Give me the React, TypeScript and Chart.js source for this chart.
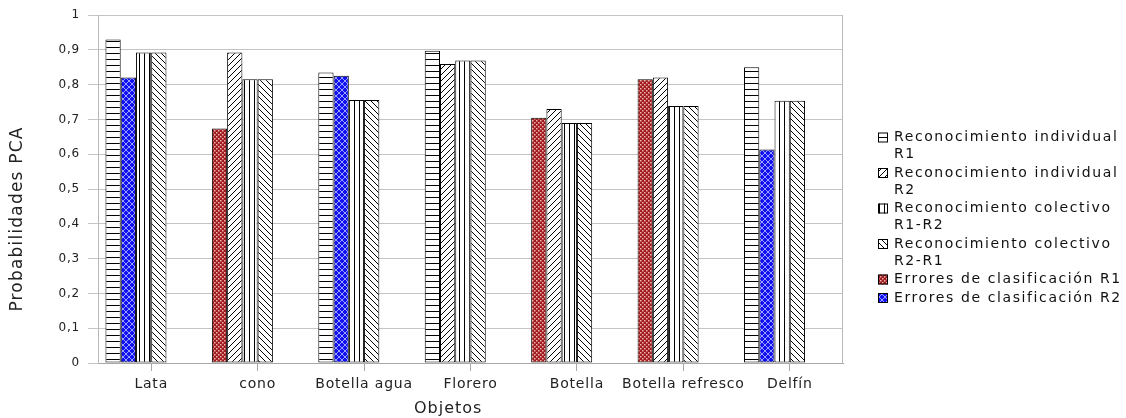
import React, { useEffect, useRef } from 'react';
import { Chart, registerables } from 'chart.js';

Chart.register(...registerables);

// ---- data ----
const categories = ['Lata', 'cono', 'Botella agua', 'Florero', 'Botella', 'Botella refresco', 'Delfín'];
const individualR1 = [0.93, null, 0.835, 0.898, null, null, 0.85];
const individualR2 = [null, 0.893, null, 0.86, 0.73, 0.821, null];
const colectivoR1R2 = [0.893, 0.816, 0.756, 0.87, 0.69, 0.739, 0.754];
const colectivoR2R1 = [0.893, 0.816, 0.756, 0.87, 0.69, 0.739, 0.754];
const erroresR1 = [null, 0.674, null, null, 0.705, 0.816, null];
const erroresR2 = [0.821, null, 0.826, null, null, null, 0.614];
const emptySlot = [0, 0, 0, 0, 0, 0, 0];
const legendLabels = [
  ['Reconocimiento individual', 'R1'],
  ['Reconocimiento individual', 'R2'],
  ['Reconocimiento colectivo', 'R1-R2'],
  ['Reconocimiento colectivo', 'R2-R1'],
  ['Errores de clasificación R1'],
  ['Errores de clasificación R2'],
];
const yTitle = 'Probabilidades PCA';
const xTitle = 'Objetos';

const FONT = '"DejaVu Sans", Verdana, sans-serif';

function tile(size: number, draw: (g: CanvasRenderingContext2D) => void) {
  const c = document.createElement('canvas');
  c.width = size;
  c.height = size;
  const g = c.getContext('2d')!;
  draw(g);
  return c;
}

function makePatterns(ctx: CanvasRenderingContext2D) {
  const horiz = tile(6, (g) => {
    g.fillStyle = '#fff'; g.fillRect(0, 0, 6, 6);
    g.fillStyle = '#000'; g.fillRect(0, 5, 6, 1);
  });
  const diagUp = tile(6, (g) => {
    g.fillStyle = '#fff'; g.fillRect(0, 0, 6, 6);
    g.strokeStyle = '#000'; g.lineWidth = 1;
    g.beginPath();
    g.moveTo(-1, 7); g.lineTo(7, -1);
    g.moveTo(-1, 1); g.lineTo(1, -1);
    g.moveTo(5, 7); g.lineTo(7, 5);
    g.stroke();
  });
  const vert = tile(5, (g) => {
    g.fillStyle = '#fff'; g.fillRect(0, 0, 5, 5);
    g.fillStyle = '#000'; g.fillRect(4, 0, 1, 5);
  });
  const diagDown = tile(6, (g) => {
    g.fillStyle = '#fff'; g.fillRect(0, 0, 6, 6);
    g.strokeStyle = '#000'; g.lineWidth = 1;
    g.beginPath();
    g.moveTo(-1, -1); g.lineTo(7, 7);
    g.moveTo(5, -1); g.lineTo(7, 1);
    g.moveTo(-1, 5); g.lineTo(1, 7);
    g.stroke();
  });
  const red = tile(4, (g) => {
    g.fillStyle = '#a01c1c'; g.fillRect(0, 0, 4, 4);
    g.fillStyle = '#f0b4b4';
    g.fillRect(0, 0, 1.5, 1.5);
    g.fillRect(2, 2, 1.5, 1.5);
  });
  const blue = tile(6, (g) => {
    g.fillStyle = '#1010f0'; g.fillRect(0, 0, 6, 6);
    g.strokeStyle = '#9aa0ff'; g.lineWidth = 1;
    g.beginPath();
    g.moveTo(-1, 7); g.lineTo(7, -1);
    g.moveTo(-1, -1); g.lineTo(7, 7);
    g.stroke();
  });
  return [horiz, diagUp, vert, diagDown, red, blue].map((c) => ctx.createPattern(c, 'repeat')!);
}

export default function App() {
  const ref = useRef<HTMLCanvasElement>(null);

  useEffect(() => {
    const canvas = ref.current!;
    const ctx = canvas.getContext('2d')!;
    const pats = makePatterns(ctx);

    const common = {
      borderColor: '#000',
      borderWidth: 1,
      borderSkipped: false,
      categoryPercentage: 0.86,
      barPercentage: 1.0,
      skipNull: true,
    };

    const decor = {
      id: 'decor',
      beforeLayout(chart: any) {
        chart.ctx.letterSpacing = '0.8px';
      },
      beforeDraw(chart: any) {
        chart.ctx.letterSpacing = '0.8px';
      },
      afterDraw(chart: any) {
        const c: CanvasRenderingContext2D = chart.ctx;
        const a = chart.chartArea;
        c.save();
        // right frame line
        c.strokeStyle = '#b8b8b8';
        c.lineWidth = 1;
        c.beginPath();
        c.moveTo(Math.round(a.right) - 0.5, a.top);
        c.lineTo(Math.round(a.right) - 0.5, a.bottom);
        c.stroke();

        // y title
        c.fillStyle = '#222';
        c.font = `17px ${FONT}`;
        (c as any).letterSpacing = '1.2px';
        c.textAlign = 'center';
        c.textBaseline = 'middle';
        c.save();
        c.translate(18, chart.height / 2 + 10);
        c.rotate(-Math.PI / 2);
        c.fillText(yTitle, 0, 0);
        c.restore();

        // x title
        c.font = `16px ${FONT}`;
        (c as any).letterSpacing = '1px';
        c.fillText(xTitle, a.left + (a.right - a.left) * 0.47, chart.height - 9);

        // legend
        const ds = chart.data.datasets;
        const x0 = a.right + 35;
        let y = 137.5;
        const lineH = 17;
        c.font = `14px ${FONT}`;
        (c as any).letterSpacing = '1.6px';
        c.textAlign = 'left';
        for (let i = 0; i < legendLabels.length; i++) {
          const lines = legendLabels[i];
          c.fillStyle = ds[i].backgroundColor;
          c.fillRect(x0, y - 5, 10, 10);
          c.strokeStyle = '#000';
          c.strokeRect(x0 + 0.5, y - 4.5, 9, 9);
          c.fillStyle = '#111';
          lines.forEach((t, k) => {
            c.fillText(t, x0 + 16, y + k * lineH);
          });
          y += lines.length * lineH + 1.5;
        }
        c.restore();
      },
    };

    const chart = new Chart(ctx, {
      type: 'bar',
      data: {
        labels: categories,
        datasets: [
          { label: 'Reconocimiento individual R1', data: individualR1, backgroundColor: pats[0], order: 0, ...common },
          { label: 'Reconocimiento individual R2', data: individualR2, backgroundColor: pats[1], order: 2, ...common },
          { label: 'Reconocimiento colectivo R1-R2', data: colectivoR1R2, backgroundColor: pats[2], order: 4, ...common },
          { label: 'Reconocimiento colectivo R2-R1', data: colectivoR2R1, backgroundColor: pats[3], order: 5, ...common },
          { label: 'Errores de clasificación R1', data: erroresR1, backgroundColor: pats[4], order: 1, ...common },
          { label: 'Errores de clasificación R2', data: erroresR2, backgroundColor: pats[5], order: 3, ...common },
          { label: '', data: emptySlot, backgroundColor: 'rgba(0,0,0,0)', order: 6, ...common, borderWidth: 0 },
          { label: '', data: emptySlot, backgroundColor: 'rgba(0,0,0,0)', order: 7, ...common, borderWidth: 0 },
        ] as any,
      },
      options: {
        responsive: false,
        animation: false,
        layout: { padding: { left: 0, top: 15, right: 283, bottom: 0 } },
        plugins: {
          legend: { display: false },
          tooltip: { enabled: false },
        },
        scales: {
          x: {
            offset: true,
            grid: { offset: false, drawOnChartArea: false, drawTicks: true, tickLength: 8, color: '#a8a8a8' },
            border: { color: '#a8a8a8' },
            ticks: { color: '#222', font: { family: FONT, size: 14 }, padding: 5, maxRotation: 0, autoSkip: false },
            afterFit: (s: any) => { s.height = 55; },
          },
          y: {
            min: 0,
            max: 1,
            grid: { color: '#c4c4c4', tickLength: 10 },
            border: { color: '#b8b8b8' },
            ticks: {
              stepSize: 0.1,
              color: '#222',
              font: { family: FONT, size: 12 },
              padding: 8,
              callback: (v: any) => {
                const n = Math.round(Number(v) * 10) / 10;
                return n === 0 || n === 1 ? String(n) : n.toFixed(1).replace('.', ',');
              },
            },
            afterFit: (s: any) => { s.width = 98; },
          },
        },
      } as any,
      plugins: [decor],
    });
    return () => chart.destroy();
  }, []);

  return (
    <div style={{ position: 'fixed', left: 0, top: 0, width: 1126, height: 418, background: '#fff' }}>
      <canvas ref={ref} width={1126} height={418} style={{ display: 'block' }} />
    </div>
  );
}
